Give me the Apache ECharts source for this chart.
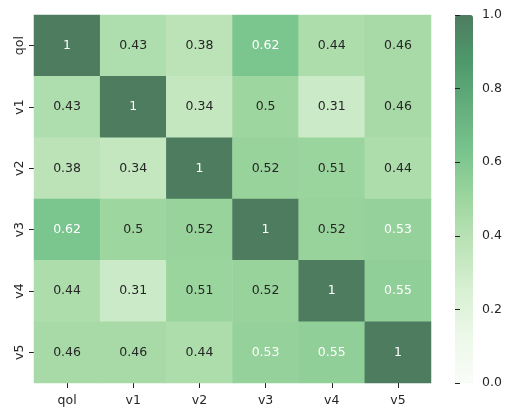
<!DOCTYPE html>
<html>
<head>
<meta charset="utf-8">
<script src="https://cdn.jsdelivr.net/npm/echarts@6/dist/echarts.min.js"></script>
<style>
  html, body { margin: 0; padding: 0; background: #fff; }
  #chart { width: 515px; height: 418px; }
</style>
</head>
<body>
<div id="chart"></div>
<script>
var chartDom = document.getElementById("chart");
var chart = echarts.init(chartDom, null, { renderer: "canvas" });

const labels = ["qol", "v1", "v2", "v3", "v4", "v5"];

// correlation matrix, one row per variable
const rowQol = [1, 0.43, 0.38, 0.62, 0.44, 0.46];
const rowV1 = [0.43, 1, 0.34, 0.5, 0.31, 0.46];
const rowV2 = [0.38, 0.34, 1, 0.52, 0.51, 0.44];
const rowV3 = [0.62, 0.5, 0.52, 1, 0.52, 0.53];
const rowV4 = [0.44, 0.31, 0.51, 0.52, 1, 0.55];
const rowV5 = [0.46, 0.46, 0.44, 0.53, 0.55, 1];
const rows = [rowQol, rowV1, rowV2, rowV3, rowV4, rowV5];

// matplotlib "Greens" drawn at alpha 0.7 on white
const greens = [
  "#f9fdf8", "#edf8e9", "#d8f0d3", "#bde4b9", "#9ed69f",
  "#7ac48e", "#65ae7d", "#4d996b", "#4d7c5f",
];

var font = "DejaVu Sans";
var textDark = "#262626";

var heatData = [];
for (let i = 0; i < rows.length; i++) {
  for (let j = 0; j < rows[i].length; j++) {
    var v = rows[i][j];
    heatData.push({
      value: [j, i, v],
      label: { color: v > 0.525 ? "#ffffff" : textDark },
    });
  }
}

var option = {
  animation: false,
  grid: [
    { left: 34, top: 15, width: 397, height: 368 },
    { left: 455, top: 15, width: 18, height: 368 },
  ],
  xAxis: [
    {
      type: "category",
      gridIndex: 0,
      data: labels,
      axisLine: { show: false },
      axisTick: { show: true, alignWithLabel: true, length: 5, lineStyle: { color: "#222" } },
      axisLabel: { color: textDark, fontFamily: font, fontSize: 12.5, margin: 11 },
      splitLine: { show: false },
    },
    {
      type: "value",
      gridIndex: 1,
      show: false,
    },
  ],
  yAxis: [
    {
      type: "category",
      gridIndex: 0,
      data: labels,
      inverse: true,
      axisLine: { show: false },
      axisTick: { show: true, alignWithLabel: true, length: 5, lineStyle: { color: "#222" } },
      axisLabel: { color: textDark, fontFamily: font, fontSize: 12.5, rotate: 90, margin: 8 },
      splitLine: { show: false },
    },
    {
      type: "value",
      gridIndex: 1,
      position: "right",
      z: 20,
      min: 0,
      max: 1,
      interval: 0.2,
      axisLine: { show: false },
      axisTick: { show: true, inside: false, length: 5, lineStyle: { color: "#222", width: 1 } },
      axisLabel: {
        color: textDark,
        fontFamily: font,
        fontSize: 12.5,
        margin: 9,
        formatter: function (val) {
          return val.toFixed(1);
        },
      },
      splitLine: { show: false },
    },
  ],
  visualMap: {
    type: "continuous",
    seriesIndex: 0,
    z: 1,
    min: 0,
    max: 1,
    calculable: false,
    orient: "vertical",
    left: 455,
    top: 15,
    itemWidth: 18,
    itemHeight: 368,
    padding: 0,
    text: null,
    showLabel: false,
    textStyle: { color: "transparent" },
    inRange: { color: greens },
  },
  series: [
    {
      type: "heatmap",
      xAxisIndex: 0,
      yAxisIndex: 0,
      data: heatData,
      label: {
        show: true,
        fontFamily: font,
        fontSize: 12.5,
        formatter: function (p) {
          return String(p.value[2]);
        },
      },
      itemStyle: { borderWidth: 0 },
      emphasis: { disabled: true },
    },
  ],
};

chart.setOption(option);

window.addEventListener("resize", function () {
  chart.resize();
});
</script>
</body>
</html>
